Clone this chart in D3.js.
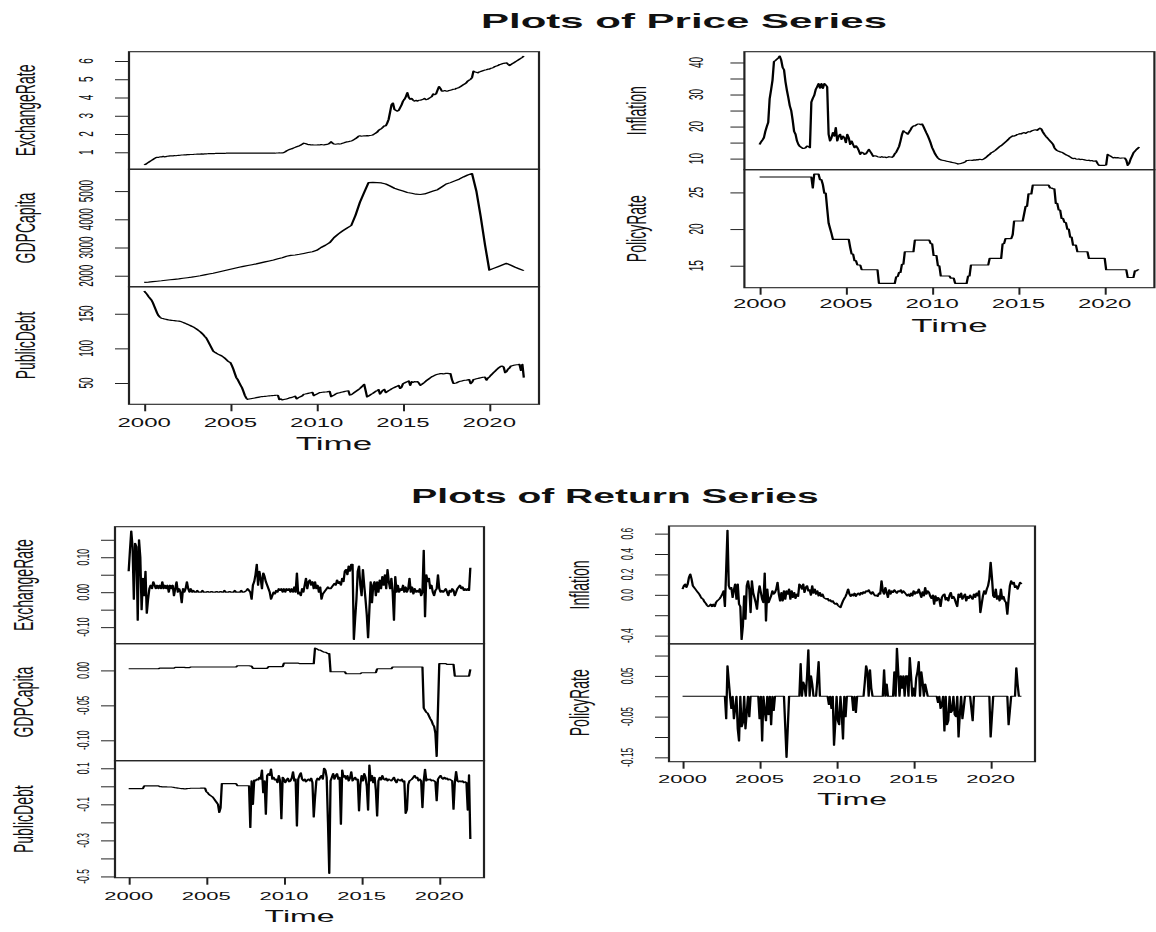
<!DOCTYPE html>
<html><head><meta charset="utf-8">
<script src="https://cdn.jsdelivr.net/npm/d3@7"></script>
<style>html,body{margin:0;padding:0;background:#fff;}svg{display:block;}</style>
</head><body>
<svg id="chart" width="1156" height="932"></svg>
<script>
// ---------------- DATA ----------------
const startYear = 2000, endYear = 2022;
const yearTicks = [2000, 2005, 2010, 2015, 2020];
const yearTickLabels = ["2000", "2005", "2010", "2015", "2020"];
const seriesNames = ["ExchangeRate", "GDPCapita", "PublicDebt", "Inflation", "PolicyRate"];

// price series, monthly 2000-01 .. 2022-01 (GDP quarterly)
const exchangeRatePrice = [
0.31,0.34,0.40,0.45,0.50,0.55,0.60,0.65,0.70,0.73,0.72,0.75,
0.74,0.78,0.75,0.76,0.78,0.79,0.80,0.81,0.80,0.82,0.81,0.82,
0.83,0.84,0.85,0.85,0.86,0.86,0.87,0.87,0.88,0.88,0.88,0.89,
0.89,0.90,0.90,0.90,0.91,0.90,0.91,0.91,0.92,0.93,0.93,0.93,
0.93,0.93,0.94,0.94,0.94,0.94,0.94,0.94,0.94,0.95,0.95,0.95,
0.95,0.95,0.95,0.95,0.95,0.95,0.95,0.95,0.95,0.95,0.95,0.95,
0.95,0.95,0.95,0.95,0.95,0.95,0.95,0.95,0.95,0.95,0.95,0.95,
0.95,0.95,0.95,0.95,0.95,0.95,0.95,0.95,0.96,0.96,0.97,0.96,
0.97,0.98,1.02,1.08,1.12,1.15,1.18,1.20,1.24,1.27,1.30,1.33,
1.36,1.40,1.45,1.50,1.48,1.45,1.42,1.42,1.40,1.41,1.40,1.40,
1.40,1.41,1.40,1.42,1.41,1.40,1.42,1.43,1.45,1.50,1.58,1.50,
1.45,1.44,1.45,1.46,1.45,1.47,1.50,1.52,1.55,1.57,1.58,1.60,
1.62,1.65,1.70,1.75,1.80,1.88,1.90,1.88,1.89,1.90,1.90,1.91,
1.90,1.92,1.93,1.95,2.00,2.05,2.10,2.20,2.25,2.30,2.37,2.45,
2.45,2.60,2.80,3.20,3.60,3.70,3.35,3.30,3.25,3.30,3.45,3.60,
3.80,3.90,4.05,4.27,4.00,3.90,3.95,3.85,3.80,3.85,3.80,3.85,
3.85,3.88,3.90,3.95,3.88,3.90,3.95,4.00,4.05,4.20,4.15,4.20,
4.40,4.60,4.50,4.35,4.35,4.38,4.35,4.35,4.38,4.40,4.42,4.45,
4.45,4.50,4.52,4.55,4.60,4.65,4.70,4.75,4.80,4.90,4.95,5.00,
5.10,5.45,5.40,5.38,5.35,5.40,5.42,5.45,5.48,5.50,5.52,5.55,
5.55,5.60,5.62,5.65,5.70,5.72,5.75,5.80,5.82,5.85,5.87,5.88,
5.90,5.82,5.75,5.80,5.85,5.90,5.95,6.00,6.05,6.10,6.15,6.20,
6.27];

const gdpCapitaPrice = [ // quarterly
1763,1775,1790,1805, 1820,1838,1855,1872, 1890,1910,1930,1950, 1975,2000,2030,2060,
2090,2125,2160,2195, 2230,2265,2300,2330, 2360,2390,2420,2455, 2490,2525,2560,2600,
2640,2690,2720,2735, 2760,2790,2820,2850, 2900,3000,3080,3170, 3350,3480,3590,3690,
3780,4150,4600,4950, 5300,5310,5300,5290, 5250,5180,5100,5050, 5000,4950,4920,4890,
4880,4900,4950,5000, 5050,5150,5250,5300, 5360,5420,5500,5570, 5620,5000,4100,3100,
2200,2260,2320,2380, 2440,2370,2300,2240, 2180];

const publicDebtPrice = [
182.7,180.5,178,175,172.5,170,166,161,156,151,147,145,
143.5,143,142.5,142,141.5,141,140.8,140.5,140.2,140,139.8,139.6,
139.4,139,138.3,137.5,136.6,135.7,134.8,133.9,133,132,131,129.8,
128.5,127,125.5,124,122,120,117.5,115.4,112,108,104,100,
96,94.5,93.3,92,91,90,89,87.5,86,84,82,80.5,
79.3,75,70,64,58,55,51,47,43.3,38,32,28,
26.4,26.8,27.2,27.6,28,28.4,28.8,29.2,29.6,30,30.3,30.5,
30.7,30.9,31.1,31.3,31.5,31.7,31.9,32.1,32.2,32.3,26,27,
25.5,26,26.5,27,27.5,28.5,28.8,29.5,30,31,27,28.5,
29.5,30.5,31.5,33.7,34,34.5,35,35.5,36,36.5,31.5,33,
34,35,36,36.2,36.5,36.8,37,37.2,37.5,37.8,30.3,31.5,
32.5,34,35,35.5,36,36.5,37,37.5,38,38.5,38.8,32.5,
33,34.5,36,37.5,39,40.5,42,44,46,48,39,29.8,
31,32.5,34,35,36.5,38,39,40.5,34,37,39.5,40.9,
36,37.5,39,40,41.5,42.5,43.5,44.5,45.5,46.5,42,44,
49,50,51,52,52.9,46.5,52,51,52,51.5,52,50,
46.6,48,49.5,51,53,54.5,56,57.5,59,60,61,62,
62.5,63,63.5,63.5,63.2,63.5,64,63.8,63.5,63.5,55,49.5,
49.5,50,51,52,52.5,53,53.5,54,54,54.5,55,49,
51,55,55.5,56,56.5,57,57.5,58,58.2,58.5,54,57,
58.7,61,63,65,67,69,71,72.5,74,74.5,73,65,
66.3,70,71.5,74.5,75,75.5,76,76.3,76.5,76.8,68,77,
57.7];

const inflationPrice = [
14.4,15.2,15.8,16.5,18.5,20.0,21.3,28.7,31.5,34.5,40.3,40.6,
41.0,41.4,42.0,40.8,38.5,37.7,34.0,31.3,29.0,26.5,25.0,22.0,
18.5,17.6,15.5,14.4,13.8,13.5,13.2,13.2,13.4,13.9,13.8,13.4,
27.6,28.8,29.7,31.5,32.4,33.4,32.0,33.4,31.9,33.4,33.0,32.4,
17.6,15.5,16.5,18.1,17.0,19.7,15.5,17.0,17.6,16.0,17.0,16.5,
15.0,17.6,16.5,14.4,15.5,14.4,13.4,14.0,13.4,12.5,11.3,12.0,
11.8,11.3,11.5,12.2,12.9,12.2,11.5,10.7,10.9,10.8,10.6,10.5,
10.4,10.6,10.4,10.5,10.3,10.4,10.6,10.5,10.4,10.7,11.5,12.0,
12.9,13.8,15.5,17.5,18.7,18.3,18.0,17.6,18.3,19.0,19.8,20.2,
20.2,20.5,20.8,20.8,20.6,20.8,20.0,19.0,18.0,17.1,16.0,14.8,
13.4,12.5,11.5,10.8,10.2,9.8,9.6,9.5,9.4,9.3,9.2,9.1,
9.0,8.9,8.8,8.7,8.6,8.5,8.3,8.4,8.5,8.6,8.8,9.0,
9.4,9.4,9.5,9.5,9.4,9.6,9.5,9.7,9.6,9.8,9.7,9.7,
9.9,10.2,10.6,11.0,11.3,11.8,12.0,12.3,12.6,13.0,13.4,13.8,
14.0,14.4,14.8,15.2,15.6,16.0,16.5,16.8,17.1,17.0,17.2,17.5,
17.6,17.8,17.7,18.0,18.1,17.9,18.2,18.4,18.3,18.6,18.8,18.9,
19.0,18.8,19.2,19.5,19.2,18.3,17.6,17.0,16.5,16.0,15.5,15.0,
14.5,13.4,12.8,12.5,12.3,12.1,12.0,11.8,11.5,11.2,11.0,10.8,
10.5,10.2,10.0,10.1,9.9,9.8,9.9,9.7,9.8,9.7,9.6,9.5,
9.4,9.5,9.3,9.4,9.2,9.2,9.3,8.5,7.9,7.9,7.9,7.9,
7.9,8.0,11.3,11.0,10.8,10.5,10.2,10.4,10.2,10.3,10.2,10.1,
10.2,10.2,10.2,9.5,7.9,8.5,9.8,10.8,11.8,12.3,12.8,13.2,
13.6];

const policyRatePrice = [
27.1,27.1,27.1,27.1,27.1,27.1,27.1,27.1,27.1,27.1,27.1,27.1,
27.1,27.1,27.1,27.1,27.1,27.1,27.1,27.1,27.1,27.1,27.1,27.1,
27.1,27.1,27.1,27.1,27.1,27.1,27.1,27.1,27.1,27.1,27.1,27.1,
27.1,25.6,27.5,27.5,27.5,27.5,26.75,26.75,26.06,24.9,24.9,22.8,
20.8,20.1,19.4,18.6,18.6,18.6,18.6,18.6,18.6,18.6,18.6,18.6,
18.6,18.6,18.6,17.5,16.6,16.6,15.7,15.7,15.1,15.1,15.1,14.45,
14.45,14.45,14.45,14.45,14.45,14.45,14.45,14.45,14.45,14.45,14.45,12.6,
12.6,12.6,12.6,12.6,12.6,12.6,12.6,12.6,12.6,12.6,12.6,13.5,
13.5,14.1,14.1,15.2,15.2,16.9,16.9,16.9,16.9,16.9,16.9,16.9,
18.5,18.5,18.5,18.5,18.5,18.5,18.5,18.5,18.5,18.5,18.5,18.0,
18.0,16.4,16.4,16.4,15.0,15.0,13.6,13.6,13.6,13.6,13.6,13.6,
13.6,13.3,13.3,13.3,12.6,12.6,12.6,12.6,12.6,12.6,12.6,12.6,
12.6,13.6,13.6,15.1,15.1,15.1,15.1,15.1,15.1,15.1,15.1,15.1,
15.1,15.1,15.1,15.1,16.0,16.0,16.0,16.0,16.0,16.0,16.0,16.0,
16.0,18.0,18.0,18.7,18.7,18.7,18.7,18.7,19.2,21.1,21.1,21.1,
21.1,21.1,21.1,21.1,22.1,23.1,23.1,24.8,24.8,24.8,26.0,26.0,
26.0,26.0,26.0,26.0,26.0,26.0,26.0,26.0,26.0,26.0,25.6,25.6,
25.5,25.5,23.5,23.5,22.6,22.6,21.45,21.45,20.9,20.9,20.0,20.0,
18.9,18.9,17.8,17.8,17.8,16.9,16.9,16.9,16.9,16.9,16.9,16.9,
16.9,16.0,16.0,16.0,16.0,16.0,16.0,16.0,16.0,16.0,16.0,16.0,
16.0,14.45,14.45,14.45,14.45,14.45,14.45,14.45,14.45,14.45,14.45,14.45,
14.45,14.45,14.45,14.45,13.4,13.4,13.4,13.4,13.4,14.3,14.3,14.45,
14.45];

// return series, monthly
const exchangeRateReturn = [
0.06,0.12,0.175,0.13,-0.02,0.14,0.13,-0.08,0.15,0.10,-0.05,0.04,
-0.01,0.06,-0.06,-0.02,0.01,0.02,0.01,0.03,0.02,0.01,0.02,0.01,
0.02,0.01,0.03,0.01,0.02,0.01,0.02,0.00,0.02,0.01,0.02,-0.01,
0.01,0.03,0.00,0.01,0.00,-0.03,0.01,0.00,0.01,0.03,0.01,0.00,
0.01,0.00,0.005,0.00,0.00,0.005,0.00,0.00,0.00,0.005,0.00,0.00,
0.00,0.002,0.00,0.00,0.002,0.00,0.00,0.00,0.002,0.00,0.00,0.002,
0.00,0.00,0.005,0.00,0.00,0.00,0.002,0.00,0.00,0.00,0.005,0.00,
0.00,0.00,0.00,0.005,0.00,0.00,0.002,0.005,0.01,0.005,0.00,-0.02,
0.02,0.03,0.05,0.08,0.02,0.06,0.04,0.01,0.055,0.045,0.03,0.02,
0.01,0.00,-0.02,-0.01,0.00,-0.005,0.005,0.00,0.01,0.005,0.01,0.00,
0.01,0.00,0.01,0.005,0.01,0.00,0.01,0.00,0.015,0.00,0.055,-0.005,
0.00,-0.01,0.01,0.00,0.02,0.04,0.01,0.03,0.035,0.02,0.03,0.01,
0.03,0.01,0.02,0.00,0.015,-0.02,-0.005,0.00,0.005,0.01,0.015,0.01,
0.01,0.015,0.02,0.025,0.02,0.035,0.025,0.03,0.02,0.04,0.03,0.06,
0.065,0.05,0.075,0.06,0.08,0.08,-0.135,-0.075,-0.02,0.06,0.075,0.02,
-0.01,0.065,0.02,-0.02,-0.065,-0.13,-0.05,0.03,-0.03,0.02,0.03,-0.01,
0.03,0.00,0.035,0.01,0.045,0.02,0.05,0.01,0.065,0.03,0.01,0.04,
0.00,-0.08,0.045,0.00,0.02,0.00,0.01,0.005,0.02,0.00,0.015,0.00,
0.01,0.04,0.00,0.015,-0.005,0.01,0.00,0.005,0.00,0.01,-0.01,0.00,
0.12,-0.07,0.05,0.03,0.04,0.01,0.02,0.00,-0.01,0.005,0.01,0.05,
0.01,0.00,0.005,0.00,0.005,0.01,0.00,-0.01,0.005,0.00,0.01,0.005,
-0.01,0.00,0.01,0.015,0.02,0.01,0.015,0.005,0.01,0.005,0.01,0.005,
0.07];

const gdpCapitaReturn = [
0.0024,0.0024,0.0024,0.0024,0.0024,0.0024,0.0024,0.0024,0.0024,0.0024,0.0024,0.0024,
0.0024,0.0024,0.0024,0.0024,0.0024,0.0024,0.0024,0.0024,0.0024,0.0024,0.0024,0.0024,
0.0033,0.0033,0.0033,0.0033,0.0033,0.0033,0.0033,0.0033,0.0033,0.0033,0.0033,0.0033,
0.0043,0.0043,0.0043,0.0043,0.0043,0.0043,0.0043,0.0043,0.0040,0.0040,0.0040,0.0040,
0.0048,0.0048,0.0048,0.0048,0.0048,0.0048,0.0048,0.0048,0.0048,0.0048,0.0048,0.0048,
0.0048,0.0048,0.0048,0.0048,0.0048,0.0048,0.0048,0.0048,0.0048,0.0048,0.0048,0.0048,
0.0048,0.0048,0.0048,0.0048,0.0048,0.0048,0.0048,0.0048,0.0048,0.0048,0.0048,0.0048,
0.0067,0.0067,0.0067,0.0067,0.0067,0.0067,0.0067,0.0067,0.0067,0.0067,0.0062,0.0062,
0.0029,0.0029,0.0029,0.0029,0.0029,0.0029,0.0029,0.0029,0.0029,0.0029,0.0029,0.0029,
0.0053,0.0053,0.0053,0.0053,0.0053,0.0053,0.0053,0.0053,0.0053,0.0053,0.0053,0.0053,
0.0105,0.0105,0.0105,0.0105,0.0105,0.0105,0.0105,0.0105,0.0105,0.0105,0.0105,0.0105,
0.0096,0.0096,0.0096,0.0096,0.0096,0.0096,0.0096,0.0096,0.0096,0.0096,0.0096,0.0096,
0.032,0.031,0.030,0.029,0.029,0.028,0.027,0.026,0.026,0.025,0.024,0.024,
-0.0019,-0.0019,-0.0019,-0.0019,-0.0019,-0.0019,-0.0019,-0.0019,-0.0019,-0.0019,-0.0019,-0.0019,
-0.0048,-0.0048,-0.0048,-0.0048,-0.0048,-0.0048,-0.0048,-0.0048,-0.0048,-0.0048,-0.0048,-0.0048,
-0.0033,-0.0033,-0.0033,-0.0033,-0.0033,-0.0033,-0.0033,-0.0033,-0.0033,-0.0033,-0.0033,-0.0033,
0.0024,0.0024,0.0024,0.0024,0.0024,0.0024,0.0024,0.0024,0.0024,0.0024,0.0024,0.0024,
0.0048,0.0048,0.0048,0.0048,0.0048,0.0048,0.0048,0.0048,0.0048,0.0048,0.0048,0.0048,
0.0048,0.0048,0.0048,0.0048,0.0048,0.0048,0.0048,0.0048,0.0048,0.0048,0.0048,0.0048,
-0.054,-0.057,-0.060,-0.061,-0.065,-0.069,-0.072,-0.077,-0.080,-0.090,-0.123,-0.056,
0.0096,0.0096,0.0096,0.0096,0.0096,0.0096,0.0086,0.0086,0.0086,0.0086,0.0086,0.0086,
-0.0081,-0.0081,-0.0081,-0.0081,-0.0081,-0.0081,-0.0081,-0.0081,-0.0081,-0.0081,-0.0081,-0.0081,
0.0014];

const publicDebtReturn = [
-0.013,-0.013,-0.013,-0.013,-0.013,-0.013,-0.013,-0.013,-0.013,-0.013,-0.013,-0.013,
0.002,0.002,0.002,0.002,0.002,0.002,0.002,0.002,0.002,0.002,0.002,0.002,
-0.002,-0.002,-0.003,-0.003,-0.003,-0.003,-0.004,-0.004,-0.004,-0.004,-0.005,-0.006,
-0.008,-0.009,-0.010,-0.011,-0.012,-0.013,-0.013,-0.014,-0.014,-0.013,-0.012,-0.012,
-0.011,-0.011,-0.011,-0.011,-0.011,-0.011,-0.011,-0.011,-0.010,-0.010,-0.010,-0.010,
-0.030,-0.035,-0.045,-0.050,-0.055,-0.060,-0.070,-0.080,-0.090,-0.100,-0.145,-0.120,
0.015,0.015,0.015,0.015,0.015,0.015,0.015,0.015,0.015,0.015,0.015,0.015,
0.004,0.003,0.003,0.003,0.003,0.003,0.003,0.003,0.003,0.003,-0.228,0.030,
-0.100,0.035,0.030,0.040,0.035,0.050,0.040,0.090,-0.035,0.030,-0.155,0.060,
0.070,0.060,0.095,0.040,0.050,0.035,0.040,0.020,0.060,0.030,-0.180,0.050,
0.040,0.020,0.035,0.045,0.025,0.030,0.045,0.080,0.030,0.040,-0.220,0.040,
0.060,0.075,0.040,0.030,0.040,0.025,0.035,0.040,0.030,0.045,0.020,-0.170,
-0.060,0.030,0.045,0.035,0.050,0.060,0.040,0.100,0.090,0.050,-0.200,-0.483,
0.030,0.050,0.070,0.040,0.060,0.070,0.040,0.050,-0.210,0.090,0.050,0.060,
0.040,0.060,0.030,0.045,0.080,0.030,0.040,0.050,0.035,0.040,-0.136,0.010,
0.060,0.030,0.070,0.050,0.000,-0.132,0.118,0.030,0.060,0.020,0.050,-0.020,
-0.164,0.030,0.050,0.035,0.060,0.040,0.035,0.045,0.030,0.040,0.035,0.030,
0.040,0.050,0.030,0.020,0.040,0.035,0.030,0.040,0.025,0.030,-0.150,-0.130,
0.010,0.030,0.035,0.040,0.050,0.060,0.045,0.050,0.030,0.040,0.030,-0.118,
0.030,0.094,0.030,0.040,0.035,0.040,0.030,0.035,0.030,0.025,-0.080,0.040,
0.050,0.060,0.045,0.040,0.050,0.040,0.045,0.035,0.040,0.035,0.030,-0.127,
0.020,0.082,0.030,0.025,0.030,0.025,0.030,0.020,0.025,0.020,-0.132,0.063,
-0.293];

const inflationReturn = [
0.056,0.089,0.105,0.072,0.105,0.171,0.204,0.155,0.089,0.072,0.056,0.039,
0.023,0.007,-0.016,-0.036,-0.043,-0.069,-0.082,-0.102,-0.115,-0.108,-0.092,-0.115,
-0.092,-0.115,-0.076,-0.059,-0.049,-0.036,-0.016,0.007,0.039,-0.115,0.253,0.632,
0.089,0.056,0.072,-0.026,0.049,0.105,-0.043,0.105,-0.092,-0.115,-0.438,-0.306,
-0.010,-0.240,0.089,0.138,0.056,-0.174,0.138,0.023,-0.026,-0.076,-0.141,0.007,
0.089,0.023,-0.043,-0.076,0.214,-0.257,0.056,-0.076,-0.043,-0.010,0.039,0.007,
0.023,0.056,0.122,0.007,-0.059,0.023,-0.059,0.039,-0.043,0.039,0.007,0.056,
-0.043,0.039,-0.026,0.023,-0.036,0.007,-0.016,0.105,0.089,0.056,0.105,0.023,
0.072,0.089,0.039,0.049,-0.003,0.089,0.016,0.056,0.007,0.039,-0.010,0.023,
-0.016,0.007,-0.026,-0.036,-0.043,-0.036,-0.059,-0.049,-0.069,-0.059,-0.082,-0.092,
-0.082,-0.102,-0.115,-0.125,-0.092,-0.059,-0.036,-0.016,0.016,0.056,0.007,-0.016,
0.007,-0.010,0.016,-0.016,0.007,0.016,-0.003,0.023,0.007,0.030,0.016,0.039,
0.030,0.049,0.023,0.007,0.030,0.007,-0.010,-0.003,-0.016,0.016,0.007,0.138,
0.039,0.007,0.072,0.023,-0.026,0.049,0.007,0.039,0.023,0.049,0.030,0.016,
0.039,0.030,0.049,0.016,0.039,0.023,0.007,-0.010,0.007,-0.016,0.016,-0.010,
0.039,0.007,0.030,0.016,0.056,0.016,-0.026,0.030,-0.010,0.072,0.007,0.039,
0.023,-0.016,-0.036,-0.003,-0.092,-0.010,-0.059,-0.026,-0.043,-0.115,-0.026,-0.003,
0.007,-0.049,-0.026,-0.059,-0.003,0.023,-0.036,-0.016,-0.043,-0.082,-0.115,0.007,
-0.026,0.016,-0.043,-0.016,0.007,-0.059,-0.016,-0.036,-0.003,-0.026,-0.043,0.007,
-0.026,0.016,-0.010,0.039,-0.174,-0.092,-0.010,0.039,0.007,0.056,0.089,0.155,
0.319,0.171,-0.010,-0.026,0.056,-0.043,-0.010,-0.059,0.056,-0.043,-0.016,-0.059,
-0.076,-0.191,-0.043,0.089,0.138,0.105,0.122,0.072,0.089,0.056,0.089,0.122,
0.105];

const policyRateReturn = [
0,0,0,0,0,0,0,0,0,0,0,0,
0,0,0,0,0,0,0,0,0,0,0,0,
0,0,0,0,0,0,0,0,0,0,-0.055,0.075,
0.037,0,-0.03,0,-0.055,-0.03,0,-0.08,-0.11,0,-0.075,-0.065,
0,-0.08,-0.04,0,-0.05,0,0,0,0,0,0,0,
-0.055,0,-0.11,0,-0.035,-0.06,0,-0.045,0,-0.07,0,-0.035,
0,0,0,0,0,0,0,0,-0.075,-0.15,-0.075,0,
0,0,0,0,0,0,0,0,0.08,0,0.035,0.025,
0,0.05,0.114,0,0.05,0.03,0,0,0,0.04,0.085,0,
0,0,0,0,0,0,-0.02,0,-0.03,0,-0.12,-0.065,
0,-0.06,-0.07,0,-0.045,-0.105,0,-0.05,0,0,0,0,
0,-0.035,0,-0.04,0,0,0,0,0,0,0.035,0.075,
0.06,0,0.065,0.02,0,0,0,0,0,0,0,0,
0,0.065,0,0.03,0,0,0,0,0,0.06,0,0.118,
0.06,0,0.05,0.02,0.05,0,0.05,0.05,0,0.095,0.05,0,
0.02,0,0.045,0.06,0.085,0,0.06,0.035,0,0.03,0.015,0,
0,0,0,0,0,0,0,-0.015,0,-0.03,-0.02,0,
-0.085,0,-0.07,-0.06,0,-0.04,-0.035,0,-0.045,-0.05,0,-0.1,
-0.045,0,-0.055,-0.03,0,0,0,0,0,-0.03,-0.06,0,
0,0,0,0,0,0,0,0,0,0,0,0,
-0.1,-0.05,0,0,0,0,0,0,0,0,0,0,
0,0,-0.07,-0.035,0,0,0,0,0.07,0.03,0,0,
0];

// y-axis ticks and their labels
const erPriceTicks = [1,2,3,4,5,6], erPriceLabels = ["1","2","3","4","5","6"];
const gdpPriceTicks = [2000,3000,4000,5000], gdpPriceLabels = ["2000","3000","4000","5000"];
const pdPriceTicks = [50,100,150], pdPriceLabels = ["50","100","150"];
const infPriceTicks = [10,15,20,25,30,35,40], infPriceLabels = ["10","","20","","30","","40"];
const prPriceTicks = [15,20,25], prPriceLabels = ["15","20","25"];
const erRetTicks = [-0.10,-0.05,0,0.05,0.10,0.15], erRetLabels = ["-0.10","","0.00","","0.10",""];
const gdpRetTicks = [-0.10,-0.05,0], gdpRetLabels = ["-0.10","-0.05","0.00"];
const pdRetTicks = [-0.5,-0.4,-0.3,-0.2,-0.1,0,0.1], pdRetLabels = ["-0.5","","-0.3","","-0.1","","0.1"];
const infRetTicks = [-0.4,-0.2,0,0.2,0.4,0.6], infRetLabels = ["-0.4","","0.0","0.2","0.4","0.6"];
const prRetTicks = [-0.15,-0.10,-0.05,0,0.05,0.10], prRetLabels = ["-0.15","","-0.05","","0.05",""];

const titles = ["Plots of Price Series", "Plots of Return Series"];

// ---------------- DRAWING ----------------
const KX = 2; // horizontal stretch of the whole figure
const monthly = d3.range(exchangeRatePrice.length).map(i => startYear + i / 12);
const quarterly = d3.range(gdpCapitaPrice.length).map(i => startYear + i / 4);

const svg = d3.select("#chart");
const root = svg.append("g").attr("transform", `scale(${KX},1)`)
  .attr("font-family", "'Liberation Sans', Arial, Helvetica, sans-serif").attr("fill", "#111");

const groups = [
  { x0: 64.5, x1: 269.5, y0: 51.7, h: 117.53, tickFont: 10, labOff: 21.5, nameOff: 51, nameFont: 14,
    xFont: 12, xLabDy: 22.4, timeFont: 17.5, timeDy: 45.7,
    panels: [
      { name: seriesNames[0], t: monthly, v: exchangeRatePrice, ticks: erPriceTicks, labels: erPriceLabels },
      { name: seriesNames[1], t: quarterly, v: gdpCapitaPrice, ticks: gdpPriceTicks, labels: gdpPriceLabels },
      { name: seriesNames[2], t: monthly, v: publicDebtPrice, ticks: pdPriceTicks, labels: pdPriceLabels } ] },
  { x0: 372.2, x1: 577.2, y0: 51.7, h: 118, tickFont: 10, labOff: 24.5, nameOff: 53.6, nameFont: 14,
    xFont: 12, xLabDy: 20.6, timeFont: 17.5, timeDy: 44,
    panels: [
      { name: seriesNames[3], t: monthly, v: inflationPrice, ticks: infPriceTicks, labels: infPriceLabels },
      { name: seriesNames[4], t: monthly, v: policyRatePrice, ticks: prPriceTicks, labels: prPriceLabels } ] },
  { x0: 57.5, x1: 242, y0: 526.7, h: 117, tickFont: 8.5, labOff: 16.3, nameOff: 45, nameFont: 14,
    xFont: 11, xLabDy: 22.3, timeFont: 16, timeDy: 44,
    panels: [
      { name: seriesNames[0], t: monthly, v: exchangeRateReturn, ticks: erRetTicks, labels: erRetLabels },
      { name: seriesNames[1], t: monthly, v: gdpCapitaReturn, ticks: gdpRetTicks, labels: gdpRetLabels },
      { name: seriesNames[2], t: monthly, v: publicDebtReturn, ticks: pdRetTicks, labels: pdRetLabels } ] },
  { x0: 334.5, x1: 517.5, y0: 526, h: 117.85, tickFont: 8.5, labOff: 21.2, nameOff: 44.2, nameFont: 14,
    xFont: 11, xLabDy: 21.6, timeFont: 16, timeDy: 43.3,
    panels: [
      { name: seriesNames[3], t: monthly, v: inflationReturn, ticks: infRetTicks, labels: infRetLabels },
      { name: seriesNames[4], t: monthly, v: policyRateReturn, ticks: prRetTicks, labels: prRetLabels } ] }
];

function drawGroup(G) {
  const g = root.append("g");
  const span = endYear - startYear;
  const x = d3.scaleLinear().domain([startYear - span * 0.04, endYear + span * 0.04]).range([G.x0, G.x1]);
  G.panels.forEach((p, k) => {
    const top = G.y0 + k * G.h, bot = top + G.h;
    const ext = d3.extent(p.v), pad = (ext[1] - ext[0]) * 0.04;
    const y = d3.scaleLinear().domain([ext[0] - pad, ext[1] + pad]).range([bot, top]);
    g.append("path").datum(p.v)
      .attr("fill", "none").attr("stroke", "#000").attr("stroke-width", 1.15)
      .attr("stroke-linejoin", "round")
      .attr("d", d3.line().x((d, i) => x(p.t[i])).y(d => y(d)));
    g.append("rect").attr("x", G.x0).attr("y", top).attr("width", G.x1 - G.x0).attr("height", G.h)
      .attr("fill", "none").attr("stroke", "#222").attr("stroke-width", 1.1);
    const ax = g.append("g").attr("transform", `translate(${G.x0},0)`)
      .call(d3.axisLeft(y).tickValues(p.ticks).tickSize(7).tickSizeOuter(0).tickFormat(() => ""));
    ax.select(".domain").remove();
    ax.selectAll("line").attr("stroke", "#222").attr("stroke-width", 1);
    p.ticks.forEach((tv, i) => {
      if (!p.labels[i]) return;
      g.append("text")
        .attr("transform", `translate(${G.x0 - G.labOff + G.tickFont * 0.36},${y(tv)}) rotate(-90)`)
        .attr("text-anchor", "middle").attr("font-size", G.tickFont).text(p.labels[i]);
    });
    g.append("text")
      .attr("transform", `translate(${G.x0 - G.nameOff + G.nameFont * 0.3},${(top + bot) / 2}) rotate(-90)`)
      .attr("text-anchor", "middle").attr("font-size", G.nameFont).text(p.name);
  });
  const yb = G.y0 + G.panels.length * G.h;
  const xa = g.append("g").attr("transform", `translate(0,${yb})`)
    .call(d3.axisBottom(x).tickValues(yearTicks).tickSize(7).tickSizeOuter(0).tickFormat(() => ""));
  xa.select(".domain").remove();
  xa.selectAll("line").attr("stroke", "#222").attr("stroke-width", 1);
  yearTicks.forEach((yr, i) => {
    g.append("text").attr("x", x(yr)).attr("y", yb + G.xLabDy).attr("text-anchor", "middle")
      .attr("font-size", G.xFont).text(yearTickLabels[i]);
  });
  g.append("text").attr("x", (G.x0 + G.x1) / 2).attr("y", yb + G.timeDy).attr("text-anchor", "middle")
    .attr("font-size", G.timeFont).text("Time");
}
groups.forEach(drawGroup);

root.append("text").attr("x", 342).attr("y", 28.5).attr("text-anchor", "middle")
  .attr("font-size", 21).attr("font-weight", "bold").text(titles[0]);
root.append("text").attr("x", 307.5).attr("y", 503).attr("text-anchor", "middle")
  .attr("font-size", 19.5).attr("font-weight", "bold").text(titles[1]);
</script>
</body></html>
